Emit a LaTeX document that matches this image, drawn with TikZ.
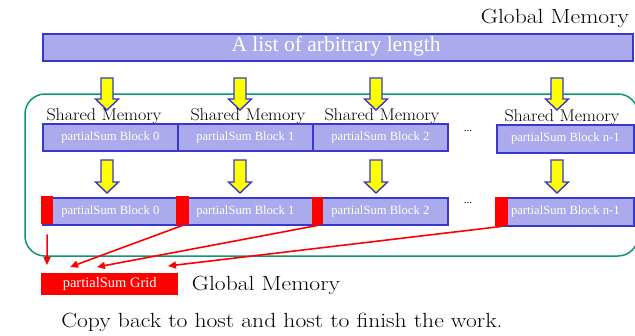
\documentclass[tikz,border=0pt]{standalone}
\usepackage{fontspec}
\usepackage{graphicx}
\newfontfamily\timesf{Liberation Serif}
\usetikzlibrary{arrows.meta}
\definecolor{lav}{RGB}{170,170,236}
\definecolor{bord}{RGB}{56,56,204}
\definecolor{grn}{RGB}{16,150,116}
\definecolor{yel}{RGB}{255,255,0}
\tikzset{
  blk/.style={draw=bord, line width=1.6pt, fill=lav, anchor=north west, inner sep=0pt,
    font=\timesf\fontsize{12.6}{14}\selectfont, text=white},
  redsq/.style={fill=red, draw=none, anchor=north west, inner sep=0pt},
  yarr/.style={fill=yel, draw=bord, line width=1.4pt, line join=miter},
  redarr/.style={draw=red, line width=1.6pt, -{Triangle[length=8pt,width=7pt]}},
  lbl/.style={font=\fontsize{17}{18}\selectfont, inner sep=0pt},
  big/.style={font=\fontsize{20.5}{22}\selectfont, inner sep=0pt},
}
\newcommand{\wide}[2]{\scalebox{#1}[1]{#2}}
\newcommand{\yarrow}[3]{% x, top, tip
  \draw[yarr] (#1-6,#2) -- (#1+6,#2) -- (#1+6,#3-11) -- (#1+11.5,#3-11) -- (#1,#3)
     -- (#1-11.5,#3-11) -- (#1-6,#3-11) -- cycle;}
\begin{document}
\begin{tikzpicture}[x=1pt,y=-1pt]
\useasboundingbox (0,0) rectangle (635,335);
\fill[white] (0,0) rectangle (635,335);

% green region
\draw[grn, line width=1.5pt, rounded corners=20pt] (25,94) rectangle (638,256);

% global list
\node[big] (gm1) at (555,18) {\wide{1.15}{Global Memory}};
\node[blk, minimum width=590pt, minimum height=27pt] (list) at (42,33) {};
\node[font=\timesf\fontsize{21.5}{22}\selectfont, text=white, inner sep=0pt] (listt) at (336,46.5) {A list of arbitrary length};

% yellow arrows row 1
\yarrow{107}{78}{110}
\yarrow{240}{78}{110}
\yarrow{376}{78}{110}
\yarrow{557}{78}{110}

% shared memory labels
\node[lbl] (sm0) at (104,116) {\wide{1.06}{Shared Memory}};
\node[lbl] (sm1) at (248,116) {\wide{1.06}{Shared Memory}};
\node[lbl] (sm2) at (382,116) {\wide{1.06}{Shared Memory}};
\node[lbl] (sm3) at (562,117) {\wide{1.06}{Shared Memory}};

% row 1 blocks
\node[blk, minimum width=135pt, minimum height=27pt] (b0) at (42,123) {partialSum Block 0};
\node[blk, minimum width=135pt, minimum height=27pt] (b1) at (177,123) {partialSum Block 1};
\node[blk, minimum width=135pt, minimum height=27pt] (b2) at (312,123) {partialSum Block 2};
\node[blk, minimum width=137pt, minimum height=28pt] (b3) at (496,124) {partialSum Block n-1};
\node[font=\timesf\fontsize{11}{12}\selectfont, inner sep=0pt] (d1) at (468,131) {...};

% yellow arrows row 2
\yarrow{107}{160}{193}
\yarrow{240}{160}{193}
\yarrow{376}{160}{193}
\yarrow{557}{160}{193}

% row 2 blocks
\node[blk, minimum width=135pt, minimum height=27pt] (c0) at (42,197) {partialSum Block 0};
\node[blk, minimum width=135pt, minimum height=27pt] (c1) at (177,197) {partialSum Block 1};
\node[blk, minimum width=135pt, minimum height=27pt] (c2) at (312,197) {partialSum Block 2};
\node[blk, minimum width=137pt, minimum height=28pt] (c3) at (496,197) {partialSum Block n-1};
\node[font=\timesf\fontsize{11}{12}\selectfont, inner sep=0pt] (d2) at (468,203) {...};

\node[redsq, minimum width=12pt, minimum height=28pt] (r0) at (41,196) {};
\node[redsq, minimum width=13pt, minimum height=29pt] (r1) at (176,196) {};
\node[redsq, minimum width=11pt, minimum height=28pt] (r2) at (312,197) {};
\node[redsq, minimum width=13pt, minimum height=29pt] (r3) at (495,197) {};

% grid
\node[redsq, minimum width=137pt, minimum height=22pt, text=white,
  font=\timesf\fontsize{14.5}{16}\selectfont] (g) at (41,273) {partialSum Grid};
\node[big] (gm2) at (266,285) {\wide{1.15}{Global Memory}};

% red arrows
\coordinate (t0) at (47,265);
\coordinate (t1) at (70,267);
\coordinate (t2) at (97,267);
\coordinate (t3) at (168,266);
\draw[redarr, shorten <=10pt] (r0.south) -- (t0);
\draw[redarr] (r1.south) -- (t1);
\draw[redarr] (r2.south) -- (t2);
\draw[redarr] (r3.south) -- (t3);

\node[big] (copy) at (282,322) {\wide{1.15}{Copy back to host and host to finish the work.}};
\end{tikzpicture}
\end{document}
